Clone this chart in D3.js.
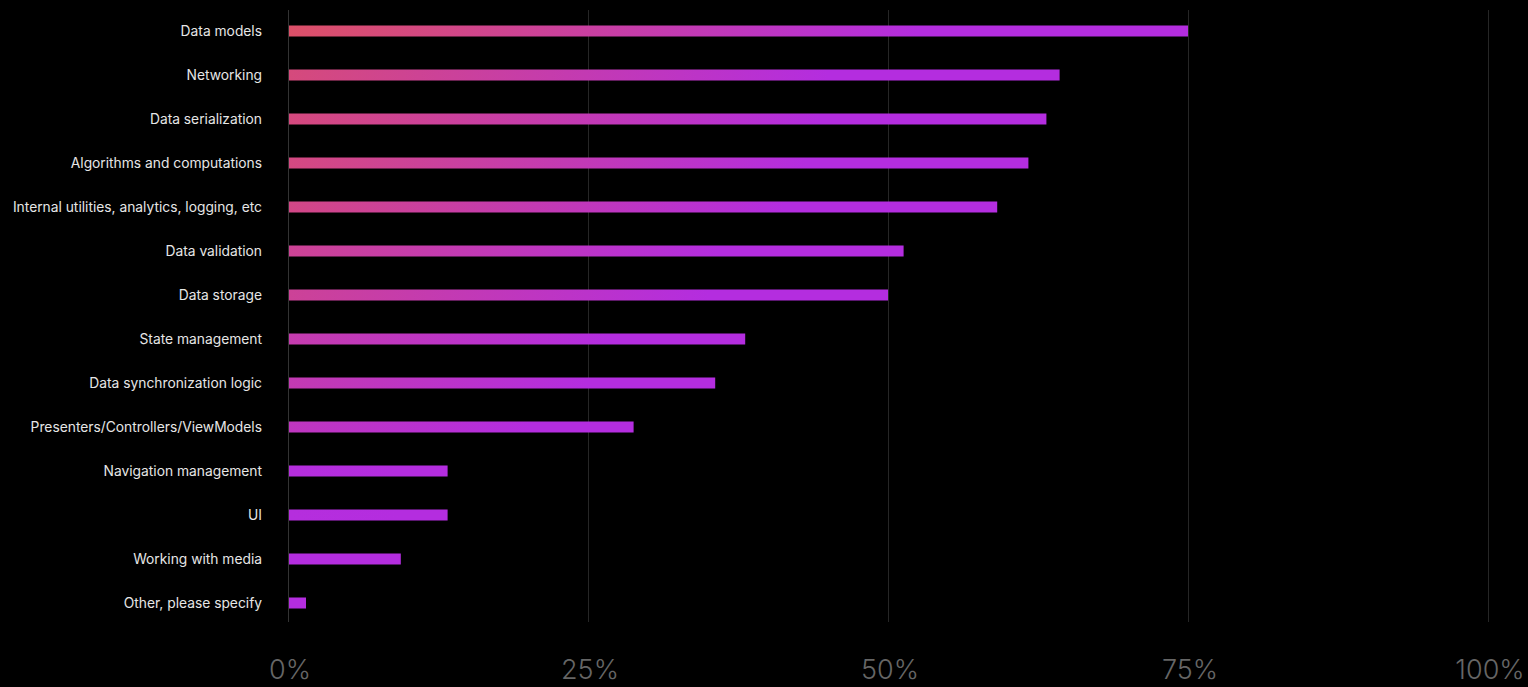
<!DOCTYPE html>
<html>
<head>
  <script src="https://d3js.org/d3.v7.min.js"></script>
  <style>
    body { margin: 0; background: #000; }
    .cat-label { font-family: Inter, 'Noto Sans', sans-serif; font-size: 13.8px; fill: #e6e6e6; }
    .tick-label { font-family: Inter, 'Noto Sans', sans-serif; font-size: 27px; font-weight: 300; fill: #666; }
  </style>
</head>
<body>
  <svg id="chart" width="1528" height="687"></svg>
  <script>
    const categories = [
      "Data models", "Networking", "Data serialization", "Algorithms and computations",
      "Internal utilities, analytics, logging, etc", "Data validation", "Data storage",
      "State management", "Data synchronization logic", "Presenters/Controllers/ViewModels",
      "Navigation management", "UI", "Working with media", "Other, please specify"
    ];
    const values = [75, 64.3, 63.2, 61.7, 59.1, 51.3, 50, 38.1, 35.6, 28.8, 13.3, 13.3, 9.4, 1.5];
    const tickValues = [0, 25, 50, 75, 100];

    const svg = d3.select("#chart");

    const x = d3.scaleLinear().domain([0, 100]).range([288, 1488]);
    const y = d3.scaleBand().domain(categories).range([9, 625]).paddingInner(0.75).paddingOuter(0.375);

    // gridlines
    svg.append("g").selectAll("line")
      .data(tickValues)
      .enter().append("line")
      .attr("x1", d => x(d) + 0.5)
      .attr("x2", d => x(d) + 0.5)
      .attr("y1", 10)
      .attr("y2", 622)
      .attr("stroke", d => d === 0 ? "#333" : "#262626")
      .attr("stroke-width", 1);

    // tick labels
    svg.append("g").selectAll("text")
      .data(tickValues)
      .enter().append("text")
      .attr("class", "tick-label")
      .attr("x", d => x(d) + 2)
      .attr("y", 679)
      .attr("text-anchor", "middle")
      .text(d => d + "%");

    // per-bar gradients: longer bars start redder
    const purple = "#b42ddf";
    const red = "#dc5068";
    const defs = svg.append("defs");
    values.forEach((v, i) => {
      const t = Math.max(0, Math.min(1, (v - 12) / 63));
      const g = defs.append("linearGradient")
        .attr("id", "grad" + i)
        .attr("x1", "0%").attr("x2", "100%")
        .attr("y1", "0%").attr("y2", "0%");
      g.append("stop").attr("offset", "0%").attr("stop-color", d3.interpolateRgb(purple, red)(t));
      g.append("stop").attr("offset", "70%").attr("stop-color", purple);
      g.append("stop").attr("offset", "100%").attr("stop-color", purple);
    });

    // bars
    svg.append("g").selectAll("rect")
      .data(values)
      .enter().append("rect")
      .attr("x", x(0) + 1)
      .attr("y", (d, i) => y(categories[i]))
      .attr("width", d => x(d) - x(0) - 1)
      .attr("height", y.bandwidth())
      .attr("fill", (d, i) => `url(#grad${i})`);

    // category labels
    svg.append("g").selectAll("text")
      .data(categories)
      .enter().append("text")
      .attr("class", "cat-label")
      .attr("x", 262)
      .attr("y", d => y(d) + y.bandwidth() / 2)
      .attr("dy", "0.35em")
      .attr("text-anchor", "end")
      .text(d => d);
  </script>
</body>
</html>
